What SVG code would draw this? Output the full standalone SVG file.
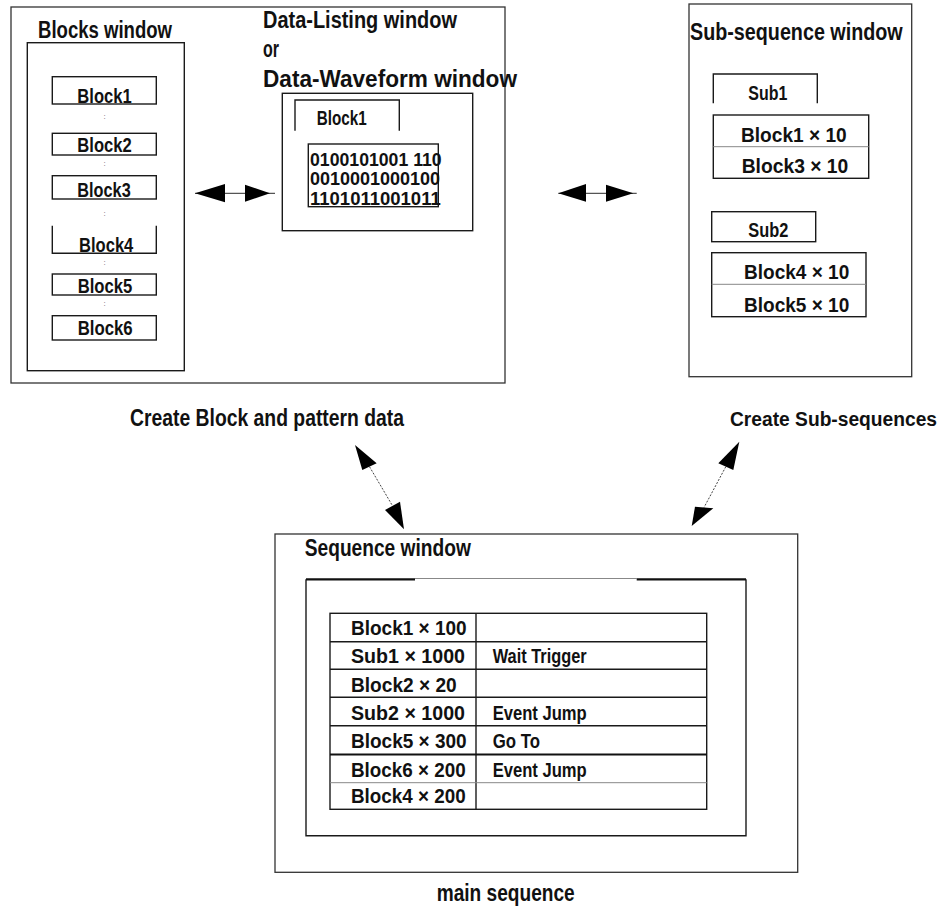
<svg xmlns="http://www.w3.org/2000/svg" width="950" height="909" viewBox="0 0 950 909">
<style>
  text { font-family: "Liberation Sans", Arial, Helvetica, sans-serif; font-weight: bold; fill: #111; }
  .t { font-size: 23px; }
  .l { font-size: 21px; }
  .d { font-size: 18px; }
  .dot { font-size: 8px; font-weight: normal; fill: #666; }
  .box { fill: none; stroke: #1a1a1a; stroke-width: 1.4; }
  .frame { fill: none; stroke: #333; stroke-width: 1.3; }
  .gray { fill: none; stroke: #888; stroke-width: 1; }
  .thick { fill: none; stroke: #111; stroke-width: 2.2; }
  .conn { stroke: #555; stroke-width: 1.3; fill: none; }
  .dconn { stroke: #444; stroke-width: 1; fill: none; stroke-dasharray: 2 1.5; }
  .head { fill: #000; stroke: none; }
</style>
<rect width="950" height="909" fill="#fff"/>

<g id="edit-area">
  <rect class="frame" x="11" y="7" width="494" height="376"/>
</g>

<g id="blocks-window">
  <rect class="box" x="27.3" y="42.7" width="157" height="328"/>
  <text class="t" x="38" y="38" textLength="134" lengthAdjust="spacingAndGlyphs">Blocks window</text>
  <rect class="box" x="52.3" y="76.7" width="104" height="27.3"/>
  <text class="l" x="77.3" y="102.7" textLength="54.4" lengthAdjust="spacingAndGlyphs">Block1</text>
  <text class="dot" x="103.5" y="119">:</text>
  <rect class="box" x="52.3" y="133.3" width="104" height="21.7"/>
  <text class="l" x="77.3" y="151.7" textLength="54.4" lengthAdjust="spacingAndGlyphs">Block2</text>
  <text class="dot" x="103.5" y="166">:</text>
  <rect class="box" x="52.3" y="175.7" width="104" height="23.3"/>
  <text class="l" x="77.3" y="197.3" textLength="53.4" lengthAdjust="spacingAndGlyphs">Block3</text>
  <text class="dot" x="103.5" y="216">:</text>
  <path class="box" d="M52.3,225.7 V253.3 H156.3 V225.7"/>
  <text class="l" x="79" y="251.7" textLength="54.3" lengthAdjust="spacingAndGlyphs">Block4</text>
  <text class="dot" x="103.5" y="265">:</text>
  <rect class="box" x="52.3" y="274" width="104" height="21"/>
  <text class="l" x="77.7" y="293.3" textLength="54.6" lengthAdjust="spacingAndGlyphs">Block5</text>
  <text class="dot" x="103.5" y="306">:</text>
  <rect class="box" x="52.3" y="315.7" width="104" height="24.3"/>
  <text class="l" x="77.7" y="335" textLength="55" lengthAdjust="spacingAndGlyphs">Block6</text>
</g>

<g id="data-window">
  <text class="t" x="263" y="28.3" textLength="194" lengthAdjust="spacingAndGlyphs">Data-Listing window</text>
  <text class="t" x="263" y="57.3" textLength="16" lengthAdjust="spacingAndGlyphs">or</text>
  <text class="t" x="263" y="87.3" textLength="254" lengthAdjust="spacingAndGlyphs">Data-Waveform window</text>
  <rect class="box" x="282.3" y="93.3" width="190.4" height="137.4"/>
  <path class="box" d="M295,130.7 V100 H399.3 V130.7"/>
  <text class="l" x="316.7" y="125" textLength="50" lengthAdjust="spacingAndGlyphs">Block1</text>
  <rect class="box" x="308.3" y="144" width="130" height="62.7"/>
  <text class="d" x="310" y="166" textLength="131.7" lengthAdjust="spacingAndGlyphs">0100101001 110</text>
  <text class="d" x="310" y="185.3" textLength="130" lengthAdjust="spacingAndGlyphs">0010001000100</text>
  <text class="d" x="310" y="204.6" textLength="130.7" lengthAdjust="spacingAndGlyphs">1101011001011</text>
</g>

<g id="subsequence-window">
  <rect class="frame" x="689" y="4" width="222.7" height="372.7"/>
  <text class="t" x="690" y="40" textLength="212.7" lengthAdjust="spacingAndGlyphs">Sub-sequence window</text>
  <path class="box" d="M713.3,103.3 V74 H817.3 V103.3"/>
  <text class="l" x="748.3" y="100" textLength="39" lengthAdjust="spacingAndGlyphs">Sub1</text>
  <rect class="box" x="713.3" y="115" width="155.4" height="63.3"/>
  <line class="gray" x1="713.3" y1="146.7" x2="868.7" y2="146.7"/>
  <text class="l" x="741" y="141.7" textLength="105.7" lengthAdjust="spacingAndGlyphs">Block1 × 10</text>
  <text class="l" x="741.7" y="173.3" textLength="106.6" lengthAdjust="spacingAndGlyphs">Block3 × 10</text>
  <rect class="box" x="711.7" y="211.7" width="104" height="30"/>
  <text class="l" x="748.3" y="237.3" textLength="40" lengthAdjust="spacingAndGlyphs">Sub2</text>
  <rect class="box" x="711.7" y="252.7" width="154.3" height="64"/>
  <line class="gray" x1="711.7" y1="284.3" x2="866" y2="284.3"/>
  <text class="l" x="744" y="279.3" textLength="105.3" lengthAdjust="spacingAndGlyphs">Block4 × 10</text>
  <text class="l" x="744" y="311.7" textLength="105.3" lengthAdjust="spacingAndGlyphs">Block5 × 10</text>
</g>

<g id="labels">
  <text class="t" x="130" y="426" textLength="274" lengthAdjust="spacingAndGlyphs">Create Block and pattern data</text>
  <text class="t" x="730" y="426" textLength="207" lengthAdjust="spacingAndGlyphs" style="font-size:20px">Create Sub-sequences</text>
  <text class="t" x="436.7" y="901" textLength="138" lengthAdjust="spacingAndGlyphs">main sequence</text>
</g>

<g id="sequence-window">
  <rect class="frame" x="275" y="534" width="522.7" height="338.3"/>
  <text class="t" x="304.8" y="556.3" textLength="166" lengthAdjust="spacingAndGlyphs">Sequence window</text>
  <path class="box" d="M306,579.3 V835.7 H746 V579.3"/>
  <line class="thick" x1="306" y1="579.3" x2="415" y2="579.3"/>
  <line class="gray" x1="415" y1="578.5" x2="636.7" y2="578.5"/>
  <line class="thick" x1="636.7" y1="579.3" x2="746" y2="579.3"/>
  <rect class="box" x="330" y="613.3" width="376.7" height="196"/>
  <line class="box" x1="476" y1="613.3" x2="476" y2="809.3"/>
  <line class="box" x1="330" y1="641.7" x2="706.7" y2="641.7"/>
  <line class="box" x1="330" y1="669.3" x2="706.7" y2="669.3"/>
  <line class="box" x1="330" y1="697.3" x2="706.7" y2="697.3"/>
  <line class="box" x1="330" y1="725.7" x2="706.7" y2="725.7"/>
  <line class="thick" x1="330" y1="754.5" x2="706.7" y2="754.5"/>
  <line class="gray" x1="330" y1="782.7" x2="706.7" y2="782.7"/>
  <text class="l" x="351" y="635" textLength="115.7" lengthAdjust="spacingAndGlyphs">Block1 × 100</text>
  <text class="l" x="351" y="663.3" textLength="114" lengthAdjust="spacingAndGlyphs">Sub1 × 1000</text>
  <text class="l" x="351" y="691.7" textLength="105.7" lengthAdjust="spacingAndGlyphs">Block2 × 20</text>
  <text class="l" x="351" y="720" textLength="114" lengthAdjust="spacingAndGlyphs">Sub2 × 1000</text>
  <text class="l" x="351" y="748.3" textLength="115.7" lengthAdjust="spacingAndGlyphs">Block5 × 300</text>
  <text class="l" x="351" y="776.7" textLength="114.7" lengthAdjust="spacingAndGlyphs">Block6 × 200</text>
  <text class="l" x="351" y="803.3" textLength="114.7" lengthAdjust="spacingAndGlyphs">Block4 × 200</text>
  <text class="l" x="492.7" y="663.3" textLength="94" lengthAdjust="spacingAndGlyphs">Wait Trigger</text>
  <text class="l" x="492.7" y="720" textLength="94" lengthAdjust="spacingAndGlyphs">Event Jump</text>
  <text class="l" x="492.7" y="748.3" textLength="47.3" lengthAdjust="spacingAndGlyphs">Go To</text>
  <text class="l" x="492.7" y="776.7" textLength="94" lengthAdjust="spacingAndGlyphs">Event Jump</text>
</g>

<g id="connectors">
  <line class="conn" x1="195" y1="193.3" x2="275" y2="193.3"/>
  <polygon class="head" points="195,193.3 225,184 225,202.3"/>
  <polygon class="head" points="270,193.3 245,184.7 245,201.7"/>
  <line class="conn" x1="558.3" y1="193.3" x2="636.7" y2="193.3"/>
  <polygon class="head" points="558.3,193.3 586,184 586,201.7"/>
  <polygon class="head" points="633.3,193.3 606,184.7 606,201.7"/>
  <line class="dconn" x1="369.5" y1="466.7" x2="392.5" y2="505.8"/>
  <polygon class="head" points="355,445 376.7,463.3 362.3,470"/>
  <polygon class="head" points="404,529.3 385,510 400,501.7"/>
  <line class="dconn" x1="725.8" y1="466.7" x2="704" y2="507.5"/>
  <polygon class="head" points="739.3,441.7 718.3,463.3 733.3,470"/>
  <polygon class="head" points="691.7,526 695,506.7 713.3,508.3"/>
</g>
</svg>
